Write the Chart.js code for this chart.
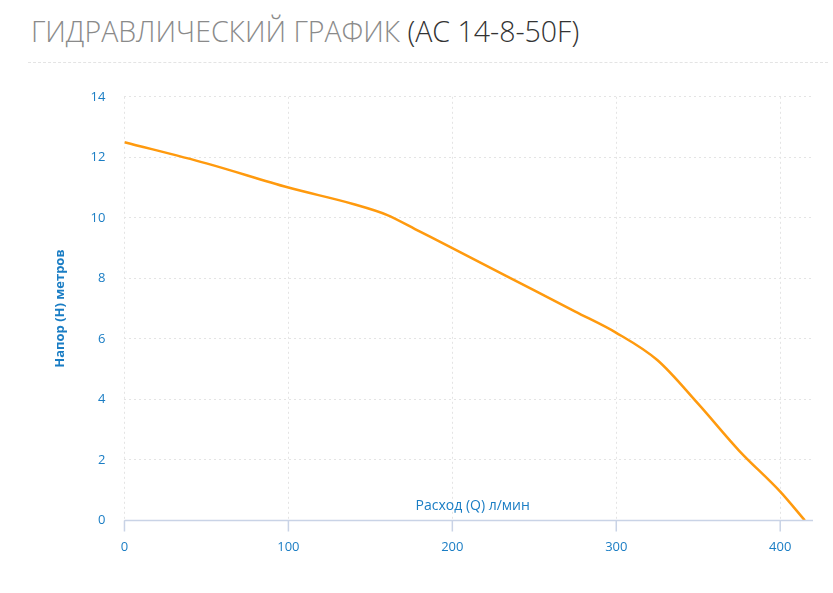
<!DOCTYPE html>
<html><head><meta charset="utf-8">
<script src="https://cdn.jsdelivr.net/npm/chart.js@4/dist/chart.umd.min.js"></script>
<style>
body{margin:0;background:#fff;font-family:"Open Sans",sans-serif}
#t{position:absolute;left:31px;top:12px;font-size:28.5px;font-weight:300;color:#8a8a8a}
#t span{color:#333}
#hr{position:absolute;left:28px;top:62px;width:800px;border-top:1px dashed #e4e4e4}
#w{position:absolute;left:0;top:70px;width:825px;height:515px}
</style></head><body>
<div id="t">ГИДРАВЛИЧЕСКИЙ ГРАФИК <span>(AC 14-8-50F)</span></div>
<div id="hr"></div>
<div id="w"><canvas id="c"></canvas></div>
<script>
const flow=[0,50,100,140,160,180,200,250,275,300,325,350,375,400,415];
const head=[12.5,11.8,11.0,10.45,10.1,9.55,9.0,7.6,6.9,6.2,5.3,3.85,2.3,0.95,0];
const xTicks=[0,100,200,300,400];
const xTitle='Расход (Q) л/мин';
const yTitle='Напор (H) метров';
const blue='#1a7dc4';
const axisCol='#c9d3e6';
const xt={id:'xt',afterDraw(ch){const c=ch.ctx,a=ch.chartArea,sx=ch.scales.x;c.save();
c.font='14px "Open Sans"';c.fillStyle=blue;c.textAlign='center';c.fillText(xTitle,(a.left+a.right)/2+4,a.bottom-10);
c.strokeStyle=axisCol;c.lineWidth=1.5;c.setLineDash([]);c.beginPath();c.moveTo(a.left,a.bottom);c.lineTo(a.right,a.bottom);
xTicks.forEach(v=>{const p=sx.getPixelForValue(v);c.moveTo(p,a.bottom);c.lineTo(p,a.bottom+11);});c.stroke();c.restore();}};
new Chart(document.getElementById('c'),{type:'line',
data:{datasets:[{data:flow.map((x,i)=>({x,y:head[i]})),borderColor:'#ff9a0e',borderWidth:2.5,pointRadius:0,cubicInterpolationMode:'monotone',fill:false}]},
options:{responsive:true,maintainAspectRatio:false,animation:false,
layout:{padding:{left:48,right:12,top:4,bottom:22}},
plugins:{legend:{display:false},tooltip:{enabled:false}},
scales:{
x:{type:'linear',min:0,max:420,afterBuildTicks(s){s.ticks=xTicks.map(v=>({value:v}));},
 ticks:{color:blue,font:{size:13,family:'Open Sans'},padding:8},
 grid:{color:'#e4e4e4',tickLength:11,drawTicks:true,tickColor:'rgba(0,0,0,0)'},border:{display:false,dash:[2,3]}},
y:{min:0,max:14,ticks:{stepSize:2,color:blue,font:{size:13,family:'Open Sans'},padding:19},
 title:{display:true,text:yTitle,color:blue,font:{size:13,weight:'bold',family:'Open Sans'},padding:4},
 grid:{color:'#e4e4e4',drawTicks:false},border:{display:false,dash:[2,3]}}
}},plugins:[xt]});
</script>
</body></html>
